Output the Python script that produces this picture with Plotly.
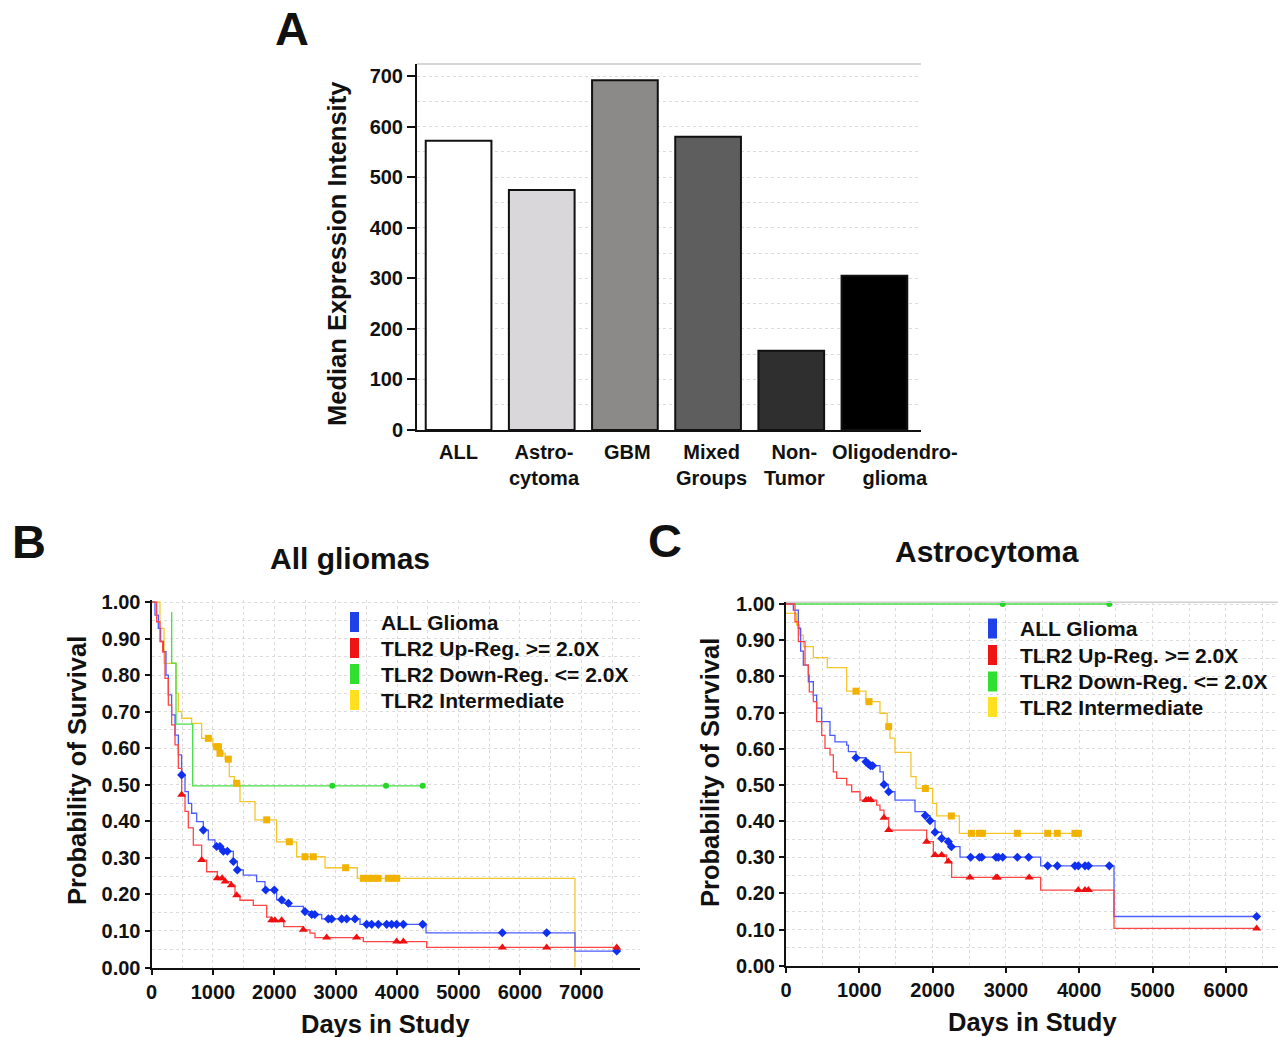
import numpy as np
import plotly.graph_objects as go

W, H = 1278, 1037
FONT = "Liberation Sans, Arial, sans-serif"

# ---------------- Panel A data ----------------
categories = ["ALL", "Astro-<br>cytoma", "GBM", "Mixed<br>Groups", "Non-<br>Tumor", "Oligodendro-<br>glioma"]
median_expression = [572, 475, 692, 580, 157, 305]
bar_colors = ["#ffffff", "#d9d7d9", "#8c8989", "#5e5e5e", "#2f2f2f", "#000000"]

# ---------------- Panel B data (All gliomas) ----------------
b_all_t = [0, 57, 111, 149, 193, 236, 274, 328, 383, 437, 491, 546, 600, 654, 736, 844, 926, 1034,
           1150, 1333, 1398, 1495, 1712, 1848, 2038, 2147, 2256, 2473, 2600, 2772, 3396, 4471, 6897, 7577]
b_all_s = [1.0, 0.964, 0.928, 0.892, 0.864, 0.800, 0.746, 0.691, 0.636, 0.582, 0.527, 0.481, 0.449, 0.422,
           0.399, 0.376, 0.349, 0.331, 0.318, 0.290, 0.267, 0.253, 0.235, 0.212, 0.185, 0.176, 0.167, 0.153,
           0.145, 0.133, 0.118, 0.095, 0.045, 0.045]
b_all_cens = [491, 844, 1061, 1115, 1170, 1235, 1333, 1398, 1860, 2000, 2120, 2230, 2500, 2610, 2660,
              2880, 2934, 3097, 3179, 3314, 3504, 3586, 3694, 3830, 3911, 3993, 4102, 4417, 5714, 6436, 7577]

b_up_t = [0, 84, 138, 182, 220, 274, 328, 383, 437, 491, 546, 600, 681, 817, 899, 1072, 1200, 1300, 1360,
          1441, 1658, 1876, 1957, 2154, 2473, 2581, 2663, 3450, 4482, 7577]
b_up_s = [1.0, 0.946, 0.892, 0.864, 0.791, 0.718, 0.664, 0.609, 0.545, 0.473, 0.427, 0.382, 0.335, 0.294,
          0.262, 0.244, 0.235, 0.225, 0.198, 0.184, 0.170, 0.138, 0.129, 0.112, 0.103, 0.094, 0.082, 0.071,
          0.055, 0.055]
b_up_cens = [491, 817, 1072, 1150, 1200, 1300, 1387, 1957, 2010, 2120, 2473, 2853, 3340, 3993, 4102,
             5714, 6436, 7577]

b_down_t = [329, 329, 399, 671, 4417]
b_down_s = [0.973, 0.833, 0.666, 0.497, 0.497]
b_down_cens = [2945, 3819, 4417]

b_mid_t = [0, 138, 204, 399, 437, 491, 654, 817, 1000, 1115, 1200, 1267, 1350, 1441, 1686, 2038, 2364,
           2826, 3352, 6897]
b_mid_s = [1.0, 0.928, 0.832, 0.750, 0.700, 0.682, 0.668, 0.627, 0.604, 0.586, 0.570, 0.522, 0.504, 0.454,
           0.404, 0.344, 0.303, 0.273, 0.244, 0.0]
b_mid_cens = [926, 1061, 1090, 1115, 1251, 1387, 1876, 2245, 2500, 2635, 3162, 3450, 3530, 3610, 3690,
              3857, 3930, 3993]

# ---------------- Panel C data (Astrocytoma) ----------------
c_all_t = [0, 100, 168, 200, 236, 305, 373, 418, 487, 600, 668, 828, 851, 955, 1091, 1123, 1155, 1282,
           1328, 1396, 1487, 1760, 1896, 1965, 2033, 2124, 2192, 2238, 2374, 3474, 4475, 6421]
c_all_s = [1.0, 0.983, 0.933, 0.870, 0.831, 0.785, 0.748, 0.712, 0.675, 0.637, 0.619, 0.610, 0.592, 0.575,
           0.564, 0.558, 0.553, 0.536, 0.501, 0.481, 0.458, 0.426, 0.415, 0.401, 0.369, 0.352, 0.343, 0.329,
           0.300, 0.276, 0.136, 0.136]
c_all_cens = [955, 1091, 1123, 1155, 1182, 1337, 1401, 1901, 1965, 2033, 2124, 2215, 2256, 2519, 2638,
              2670, 2865, 2897, 2956, 3156, 3310, 3570, 3701, 3942, 3988, 4079, 4125, 4411, 6421]

c_up_t = [0, 123, 168, 259, 305, 318, 373, 418, 487, 532, 600, 646, 691, 828, 896, 1010, 1237, 1282, 1337,
          1401, 1919, 2010, 2192, 2260, 3474, 4475, 6421]
c_up_s = [1.0, 0.951, 0.896, 0.831, 0.804, 0.757, 0.730, 0.675, 0.637, 0.601, 0.583, 0.536, 0.518, 0.500,
          0.481, 0.458, 0.444, 0.430, 0.409, 0.375, 0.343, 0.306, 0.288, 0.244, 0.209, 0.103, 0.103]
c_up_cens = [1091, 1123, 1155, 1337, 1401, 1919, 2033, 2124, 2215, 2510, 2865, 2883, 3318, 3988, 4079,
             4125, 6421]

c_down_t = [0, 4411]
c_down_s = [1.0, 1.0]
c_down_cens = [2956, 4411]

c_mid_t = [0, 145, 182, 236, 373, 564, 828, 1091, 1282, 1380, 1419, 1487, 1705, 1774, 2001, 2056, 2365, 3988]
c_mid_s = [0.974, 0.942, 0.914, 0.882, 0.852, 0.824, 0.759, 0.730, 0.698, 0.661, 0.629, 0.590, 0.523,
           0.490, 0.449, 0.414, 0.366, 0.366]
c_mid_cens = [955, 1132, 1401, 1901, 2255, 2529, 2638, 2679, 3156, 3570, 3701, 3942, 3988]

legend_labels = ["ALL Glioma", "TLR2 Up-Reg. >= 2.0X", "TLR2 Down-Reg. <= 2.0X", "TLR2 Intermediate"]
panel_titles = ["All gliomas", "Astrocytoma"]
panel_letters = ["A", "B", "C"]

# ---------------- styles ----------------
line_colors = ["#4a5cff", "#ff4545", "#44e044", "#f5c62a"]
marker_colors = ["#1030f0", "#ee1010", "#22d822", "#f2b200"]
legend_colors = ["#2040e8", "#f01515", "#30e030", "#ffe020"]
symbols = ["diamond", "triangle-up", "circle", "square"]
msizes = [7, 8, 6, 7]
cat_label_shift = [0, 3, 3, 3, 3, 21]


def px(x):
    return x / W


def py(y):
    return 1 - y / H


def km_at(times, surv, t):
    times = np.asarray(times)
    surv = np.asarray(surv)
    idx = np.searchsorted(times, np.asarray(t), side="right") - 1
    return surv[np.clip(idx, 0, len(surv) - 1)]


fig = go.Figure()

# Panel A bars
fig.add_trace(go.Bar(
    x=categories, y=median_expression, marker=dict(color=bar_colors, line=dict(color="#111111", width=2)),
    xaxis="x", yaxis="y", showlegend=False, width=0.79,
))

# Panel B and C curves
groups_b = [(b_all_t, b_all_s, b_all_cens), (b_up_t, b_up_s, b_up_cens),
            (b_down_t, b_down_s, b_down_cens), (b_mid_t, b_mid_s, b_mid_cens)]
groups_c = [(c_all_t, c_all_s, c_all_cens), (c_up_t, c_up_s, c_up_cens),
            (c_down_t, c_down_s, c_down_cens), (c_mid_t, c_mid_s, c_mid_cens)]

order = [3, 2, 0, 1]
for groups, xa, ya in [(groups_b, "x2", "y2"), (groups_c, "x3", "y3")]:
    for i in order:
        t, s, cens = groups[i]
        fig.add_trace(go.Scatter(x=t, y=s, mode="lines", line=dict(color=line_colors[i], width=1.3, shape="hv"),
                                 xaxis=xa, yaxis=ya, showlegend=False, cliponaxis=False))
    for i in order:
        t, s, cens = groups[i]
        fig.add_trace(go.Scatter(x=cens, y=km_at(t, s, cens), mode="markers",
                                 marker=dict(symbol=symbols[i], size=msizes[i], color=marker_colors[i]),
                                 xaxis=xa, yaxis=ya, showlegend=False, cliponaxis=False))

bold = dict(family=FONT, color="#111111", weight="bold")

grid = dict(showgrid=True, gridcolor="#dcdcdc", griddash="dot", gridwidth=1)
axline = dict(showline=True, linecolor="#111111", linewidth=2, zeroline=False, ticks="outside",
              tickcolor="#111111", tickwidth=2, automargin=False)

fig.update_layout(
    template="none",
    width=W, height=H, margin=dict(l=0, r=0, t=0, b=0, pad=0, autoexpand=False), autosize=False,
    paper_bgcolor="white", plot_bgcolor="white", bargap=0.2, showlegend=False,
    xaxis=dict(domain=[px(417), px(921)], anchor="y", type="category", range=[-0.5, 5.56],
               showline=True, linecolor="#111111", linewidth=2, ticks="", showgrid=False,
               showticklabels=False, automargin=False, zeroline=False),
    yaxis=dict(domain=[py(430), py(64)], anchor="x", range=[0, 724], dtick=100, ticklen=8,
               tickfont=dict(size=20, **bold), **axline, **grid,
               minor=dict(dtick=50, showgrid=True, gridcolor="#dcdcdc", griddash="dot")),
    xaxis2=dict(domain=[px(151.5), px(640)], anchor="y2", range=[0, 7956], dtick=1000, tick0=0, ticklen=5,
                tickfont=dict(size=20, **bold), **axline, **grid,
                minor=dict(dtick=500, showgrid=True, gridcolor="#dcdcdc", griddash="dot")),
    yaxis2=dict(domain=[py(967.5), py(600.2)], anchor="x2", range=[0, 1.005], dtick=0.1, tickformat=".2f",
                ticklen=5, tickfont=dict(size=20, **bold), **axline, **grid,
                minor=dict(dtick=0.05, showgrid=True, gridcolor="#dcdcdc", griddash="dot")),
    xaxis3=dict(domain=[px(786), 1.0], anchor="y3", range=[0, 6712], dtick=1000, tick0=0, ticklen=5,
                tickfont=dict(size=20, **bold), **axline, **grid,
                minor=dict(dtick=500, showgrid=True, gridcolor="#dcdcdc", griddash="dot")),
    yaxis3=dict(domain=[py(965.7), py(602.2)], anchor="x3", range=[0, 1.005], dtick=0.1, tickformat=".2f",
                ticklen=5, tickfont=dict(size=20, **bold), **axline, **grid,
                minor=dict(dtick=0.05, showgrid=True, gridcolor="#dcdcdc", griddash="dot")),
)

shapes = [
    dict(type="line", xref="x domain", yref="y domain", x0=0, x1=1, y0=1, y1=1,
         line=dict(color="#c8c8c8", width=1.5)),
    dict(type="line", xref="x3 domain", yref="y3 domain", x0=0, x1=1, y0=1, y1=1,
         line=dict(color="#d0d0d0", width=1.5)),
]

annotations = []


def ann(text, x, y, size, angle=0, xanchor="center", yanchor="middle"):
    annotations.append(dict(text=text, x=px(x), y=py(y), xref="paper", yref="paper", showarrow=False,
                            textangle=angle, xanchor=xanchor, yanchor=yanchor, borderpad=0,
                            font=dict(size=size, **bold)))


# category labels of panel A (drawn on the category axis)
for cat, sh in zip(categories, cat_label_shift):
    annotations.append(dict(text=cat, x=cat, xref="x", y=py(440), yref="paper", yanchor="top",
                            showarrow=False, xshift=sh, borderpad=0,
                            font=dict(size=20, **bold)))

# panel letters and titles
ann(panel_letters[0], 292, 28, 47)
ann(panel_letters[1], 29, 541, 47)
ann(panel_letters[2], 665, 540, 47)
ann(panel_titles[0], 350, 558, 30)
ann(panel_titles[1], 987, 551, 30)

# axis titles
ann("Median Expression Intensity", 337, 253, 25.5, angle=-90)
ann("Probability of Survival", 77, 771, 25.5, angle=-90)
ann("Probability of Survival", 710, 773, 25.5, angle=-90)
ann("Days in Study", 385, 1024, 25.5)
ann("Days in Study", 1032, 1022, 25.5)

# legends
for (rx, tx, rows) in [(350, 380, [622, 648, 674, 700]), (988, 1019, [628.5, 655, 681.5, 707])]:
    for i, yc in enumerate(rows):
        shapes.append(dict(type="rect", xref="paper", yref="paper", x0=px(rx), x1=px(rx + 9),
                           y0=py(yc + 10), y1=py(yc - 10), fillcolor=legend_colors[i], line=dict(width=0)))
        ann(legend_labels[i], tx, yc, 21, xanchor="left")

fig.update_layout(shapes=shapes, annotations=annotations)

page_fix = (
    "var gd=document.getElementById('{plot_id}');"
    "gd.style.position='fixed';gd.style.top='0px';gd.style.left='0px';"
    "document.documentElement.style.margin='0';document.documentElement.style.padding='0';"
    "document.body.style.margin='0';document.body.style.padding='0';"
    "document.documentElement.style.height='1037px';document.body.style.height='1037px';"
    "document.documentElement.style.overflow='hidden';document.body.style.overflow='hidden';"
)

fig.write_html("out.html", config={"displayModeBar": False}, post_script=page_fix)
